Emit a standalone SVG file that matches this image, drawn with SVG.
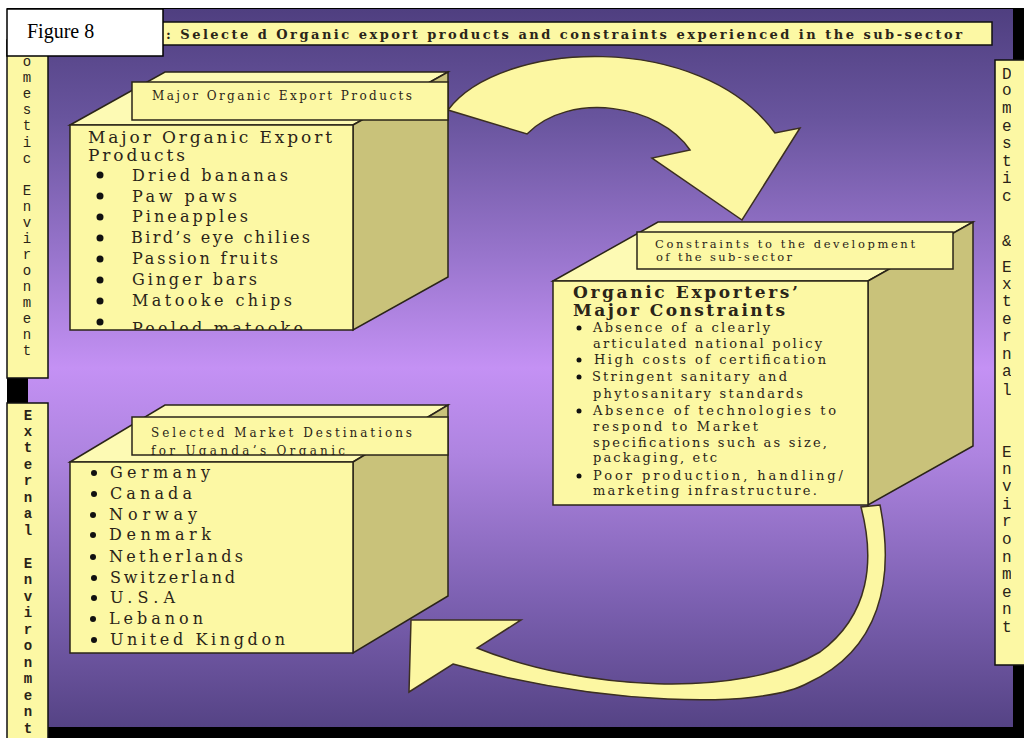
<svg xmlns="http://www.w3.org/2000/svg" width="1024" height="738" viewBox="0 0 1024 738">
<defs>
<linearGradient id="bg" x1="0" y1="0" x2="0" y2="1">
<stop offset="0" stop-color="#4f3f80"/>
<stop offset="0.15" stop-color="#68549d"/>
<stop offset="0.35" stop-color="#9a76ce"/>
<stop offset="0.5" stop-color="#c491f4"/>
<stop offset="0.62" stop-color="#ae84e0"/>
<stop offset="0.82" stop-color="#7d61b2"/>
<stop offset="1" stop-color="#554385"/>
</linearGradient>
<clipPath id="c1"><rect x="70" y="125" width="283" height="205"/></clipPath>
<clipPath id="c3"><rect x="132" y="417" width="316" height="38"/></clipPath>
<clipPath id="cr"><rect x="995" y="60" width="16" height="605"/></clipPath>
</defs>
<style>
.face{fill:#fcf8a4;stroke:#2a2418;stroke-width:1.5}
.top{fill:#fdfab4;stroke:#2a2418;stroke-width:1.5}
.side{fill:#c9c27a;stroke:#2a2418;stroke-width:1.5}
.arrow{fill:#fcf7a2;stroke:#3b2f20;stroke-width:1.5}
.strip{fill:#fcf8a4;stroke:#111;stroke-width:1.5}
.t{font-family:"DejaVu Serif","Liberation Serif",serif;fill:#2a2418}
.m{font-family:"Liberation Mono","DejaVu Sans Mono",monospace;fill:#2a2418}
.s12{font-size:12px}
.s13{font-size:13px}
.s16{font-size:16px}
.dot{fill:#111}
</style>
<rect x="0" y="0" width="1024" height="738" fill="#ffffff"/>
<rect x="7" y="8" width="1017" height="730" fill="#000000"/>
<rect x="28" y="9" width="985" height="718" fill="url(#bg)"/>

<g id="title">
<rect x="150" y="22" width="842" height="23" class="strip"/>
<text x="166" y="39" class="t" font-size="13" font-weight="bold" textLength="796" lengthAdjust="spacing">: Selecte d Organic export products and constraints experienced in the sub-sector</text>
</g>

<g id="domestic-strip">
<rect x="7" y="40" width="41" height="338" class="strip"/>
<text class="m" font-size="14" text-anchor="middle"><tspan x="27" y="66">o</tspan><tspan x="27" y="82">m</tspan><tspan x="27" y="98">e</tspan><tspan x="27" y="114">s</tspan><tspan x="27" y="130">t</tspan><tspan x="27" y="147">i</tspan><tspan x="27" y="163">c</tspan><tspan x="27" y="195">E</tspan><tspan x="27" y="211">n</tspan><tspan x="27" y="227">v</tspan><tspan x="27" y="243">i</tspan><tspan x="27" y="259">r</tspan><tspan x="27" y="275">o</tspan><tspan x="27" y="291">n</tspan><tspan x="27" y="307">m</tspan><tspan x="27" y="323">e</tspan><tspan x="27" y="339">n</tspan><tspan x="27" y="355">t</tspan></text>
</g>

<g id="external-strip">
<rect x="7" y="403" width="41" height="345" class="strip"/>
<text class="m" font-size="14" font-weight="bold" text-anchor="middle"><tspan x="28" y="420">E</tspan><tspan x="28" y="436">x</tspan><tspan x="28" y="452">t</tspan><tspan x="28" y="469">e</tspan><tspan x="28" y="485">r</tspan><tspan x="28" y="502">n</tspan><tspan x="28" y="518">a</tspan><tspan x="28" y="535">l</tspan><tspan x="28" y="568">E</tspan><tspan x="28" y="584">n</tspan><tspan x="28" y="601">v</tspan><tspan x="28" y="617">i</tspan><tspan x="28" y="634">r</tspan><tspan x="28" y="650">o</tspan><tspan x="28" y="667">n</tspan><tspan x="28" y="683">m</tspan><tspan x="28" y="700">e</tspan><tspan x="28" y="716">n</tspan><tspan x="28" y="733">t</tspan></text>
</g>

<g id="right-strip">
<rect x="995" y="60" width="40" height="605" class="strip"/>
<text class="m" font-size="16" clip-path="url(#cr)"><tspan x="1002" y="79">D</tspan><tspan x="1002" y="95">o</tspan><tspan x="1002" y="113">m</tspan><tspan x="1002" y="131">e</tspan><tspan x="1002" y="148">s</tspan><tspan x="1002" y="166">t</tspan><tspan x="1002" y="183">i</tspan><tspan x="1002" y="201">c</tspan><tspan x="1002" y="246">&amp;</tspan><tspan x="1002" y="272">E</tspan><tspan x="1002" y="289">x</tspan><tspan x="1002" y="306">t</tspan><tspan x="1002" y="324">e</tspan><tspan x="1002" y="341">r</tspan><tspan x="1002" y="359">n</tspan><tspan x="1002" y="376">a</tspan><tspan x="1002" y="395">l</tspan><tspan x="1002" y="457">E</tspan><tspan x="1002" y="474">n</tspan><tspan x="1002" y="491">v</tspan><tspan x="1002" y="509">i</tspan><tspan x="1002" y="526">r</tspan><tspan x="1002" y="544">o</tspan><tspan x="1002" y="562">n</tspan><tspan x="1002" y="579">m</tspan><tspan x="1002" y="597">e</tspan><tspan x="1002" y="614">n</tspan><tspan x="1002" y="632">t</tspan></text>
</g>

<g id="figure-label">
<rect x="7" y="9" width="156" height="47" fill="#ffffff" stroke="#000" stroke-width="1.5"/>
<text x="27" y="38" font-family="Liberation Serif,serif" font-size="20" fill="#000">Figure 8</text>
</g>

<g id="connectors">
<path class="arrow" d="M 448,110 C 500,40 700,30 775,133 L 800,128 L 742,220 L 652,158 L 690,150 C 660,105 570,90 527,134 Z"/>
<path class="arrow" d="M 880,505 C 895,580 880,650 808,683 C 760,710 600,705 453,664 L 409,692 L 411,620 L 521,620 L 477,648 C 580,690 740,700 820,652 C 870,615 875,560 861,507 Z"/>
</g>

<g id="box-products">
<polygon class="top" points="70,125 165,72 448,72 353,125"/>
<polygon class="side" points="353,125 448,72 448,277 353,330"/>
<rect class="face" x="70" y="125" width="283" height="205"/>
<rect class="face" x="132" y="82" width="316" height="38"/>
<text x="152" y="100" class="t s12" textLength="260" lengthAdjust="spacing">Major Organic Export Products</text>
<g clip-path="url(#c1)">
<text x="88" y="143" class="t" font-size="17" textLength="244" lengthAdjust="spacing">Major Organic Export</text>
<text x="88" y="161" class="t" font-size="17" textLength="97" lengthAdjust="spacing">Products</text>
<circle class="dot" cx="100" cy="175" r="3.5"/>
<circle class="dot" cx="100" cy="196" r="3.5"/>
<circle class="dot" cx="100" cy="217" r="3.5"/>
<circle class="dot" cx="100" cy="238" r="3.5"/>
<circle class="dot" cx="100" cy="259" r="3.5"/>
<circle class="dot" cx="100" cy="280" r="3.5"/>
<circle class="dot" cx="100" cy="301" r="3.5"/>
<circle class="dot" cx="100" cy="322" r="3.5"/>
<text x="132" y="181" class="t s16" textLength="156" lengthAdjust="spacing">Dried bananas</text>
<text x="132" y="202" class="t s16" textLength="105" lengthAdjust="spacing">Paw paws</text>
<text x="132" y="222" class="t s16" textLength="116" lengthAdjust="spacing">Pineapples</text>
<text x="131" y="243" class="t s16" textLength="179" lengthAdjust="spacing">Bird’s eye chilies</text>
<text x="132" y="264" class="t s16" textLength="146" lengthAdjust="spacing">Passion fruits</text>
<text x="132" y="285" class="t s16" textLength="125" lengthAdjust="spacing">Ginger bars</text>
<text x="132" y="306" class="t s16" textLength="160" lengthAdjust="spacing">Matooke chips</text>
<text x="132" y="334" class="t s16" textLength="171" lengthAdjust="spacing">Peeled matooke</text>
</g>
</g>

<g id="box-constraints">
<polygon class="top" points="553,281 658,222 973,222 868,281"/>
<polygon class="side" points="868,281 973,222 973,446 868,505"/>
<rect class="face" x="553" y="281" width="315" height="224"/>
<rect class="face" x="637" y="232" width="316" height="37"/>
<text x="655" y="248" class="t" font-size="11.5" textLength="260" lengthAdjust="spacing">Constraints to the development</text>
<text x="656" y="261" class="t" font-size="11.5" textLength="136" lengthAdjust="spacing">of the sub-sector</text>
<text x="573" y="298" class="t" font-size="17" font-weight="bold" textLength="225" lengthAdjust="spacing">Organic Exporters’</text>
<text x="573" y="316" class="t" font-size="17" font-weight="bold" textLength="212" lengthAdjust="spacing">Major Constraints</text>
<circle class="dot" cx="579" cy="328" r="2.5"/>
<circle class="dot" cx="579" cy="360" r="2.5"/>
<circle class="dot" cx="579" cy="377" r="2.5"/>
<circle class="dot" cx="579" cy="411" r="2.5"/>
<circle class="dot" cx="579" cy="476" r="2.5"/>
<text x="593" y="332" class="t s13" textLength="177" lengthAdjust="spacing">Absence of a clearly</text>
<text x="593" y="348" class="t s13" textLength="229" lengthAdjust="spacing">articulated national policy</text>
<text x="594" y="364" class="t s13" textLength="232" lengthAdjust="spacing">High costs of certification</text>
<text x="592" y="381" class="t s13" textLength="195" lengthAdjust="spacing">Stringent sanitary and</text>
<text x="593" y="398" class="t s13" textLength="210" lengthAdjust="spacing">phytosanitary standards</text>
<text x="593" y="415" class="t s13" textLength="243" lengthAdjust="spacing">Absence of technologies to</text>
<text x="593" y="431" class="t s13" textLength="165" lengthAdjust="spacing">respond to Market</text>
<text x="593" y="447" class="t s13" textLength="234" lengthAdjust="spacing">specifications such as size,</text>
<text x="593" y="462" class="t s13" textLength="124" lengthAdjust="spacing">packaging, etc</text>
<text x="593" y="480" class="t s13" textLength="250" lengthAdjust="spacing">Poor production, handling/</text>
<text x="593" y="495" class="t s13" textLength="224" lengthAdjust="spacing">marketing infrastructure.</text>
</g>

<g id="box-markets">
<polygon class="top" points="70,462 165,405 448,405 353,462"/>
<polygon class="side" points="353,462 448,405 448,596 353,653"/>
<rect class="face" x="70" y="462" width="283" height="191"/>
<rect class="face" x="132" y="417" width="316" height="38"/>
<g clip-path="url(#c3)">
<text x="151" y="437" class="t s12" textLength="261" lengthAdjust="spacing">Selected Market Destinations</text>
<text x="151" y="455" class="t s12" textLength="194" lengthAdjust="spacing">for Uganda’s Organic</text>
</g>
<circle class="dot" cx="94" cy="473" r="3"/>
<circle class="dot" cx="94" cy="494" r="3"/>
<circle class="dot" cx="93" cy="515" r="3"/>
<circle class="dot" cx="93" cy="535" r="3"/>
<circle class="dot" cx="93" cy="557" r="3"/>
<circle class="dot" cx="94" cy="578" r="3"/>
<circle class="dot" cx="94" cy="598" r="3"/>
<circle class="dot" cx="93" cy="619" r="3"/>
<circle class="dot" cx="94" cy="640" r="3"/>
<text x="110" y="478" class="t s16" textLength="100" lengthAdjust="spacing">Germany</text>
<text x="110" y="499" class="t s16" textLength="82" lengthAdjust="spacing">Canada</text>
<text x="109" y="520" class="t s16" textLength="88" lengthAdjust="spacing">Norway</text>
<text x="109" y="540" class="t s16" textLength="102" lengthAdjust="spacing">Denmark</text>
<text x="109" y="562" class="t s16" textLength="134" lengthAdjust="spacing">Netherlands</text>
<text x="110" y="583" class="t s16" textLength="125" lengthAdjust="spacing">Switzerland</text>
<text x="110" y="603" class="t s16" textLength="65" lengthAdjust="spacing">U.S.A</text>
<text x="109" y="624" class="t s16" textLength="94" lengthAdjust="spacing">Lebanon</text>
<text x="110" y="645" class="t s16" textLength="175" lengthAdjust="spacing">United Kingdon</text>
</g>
</svg>
